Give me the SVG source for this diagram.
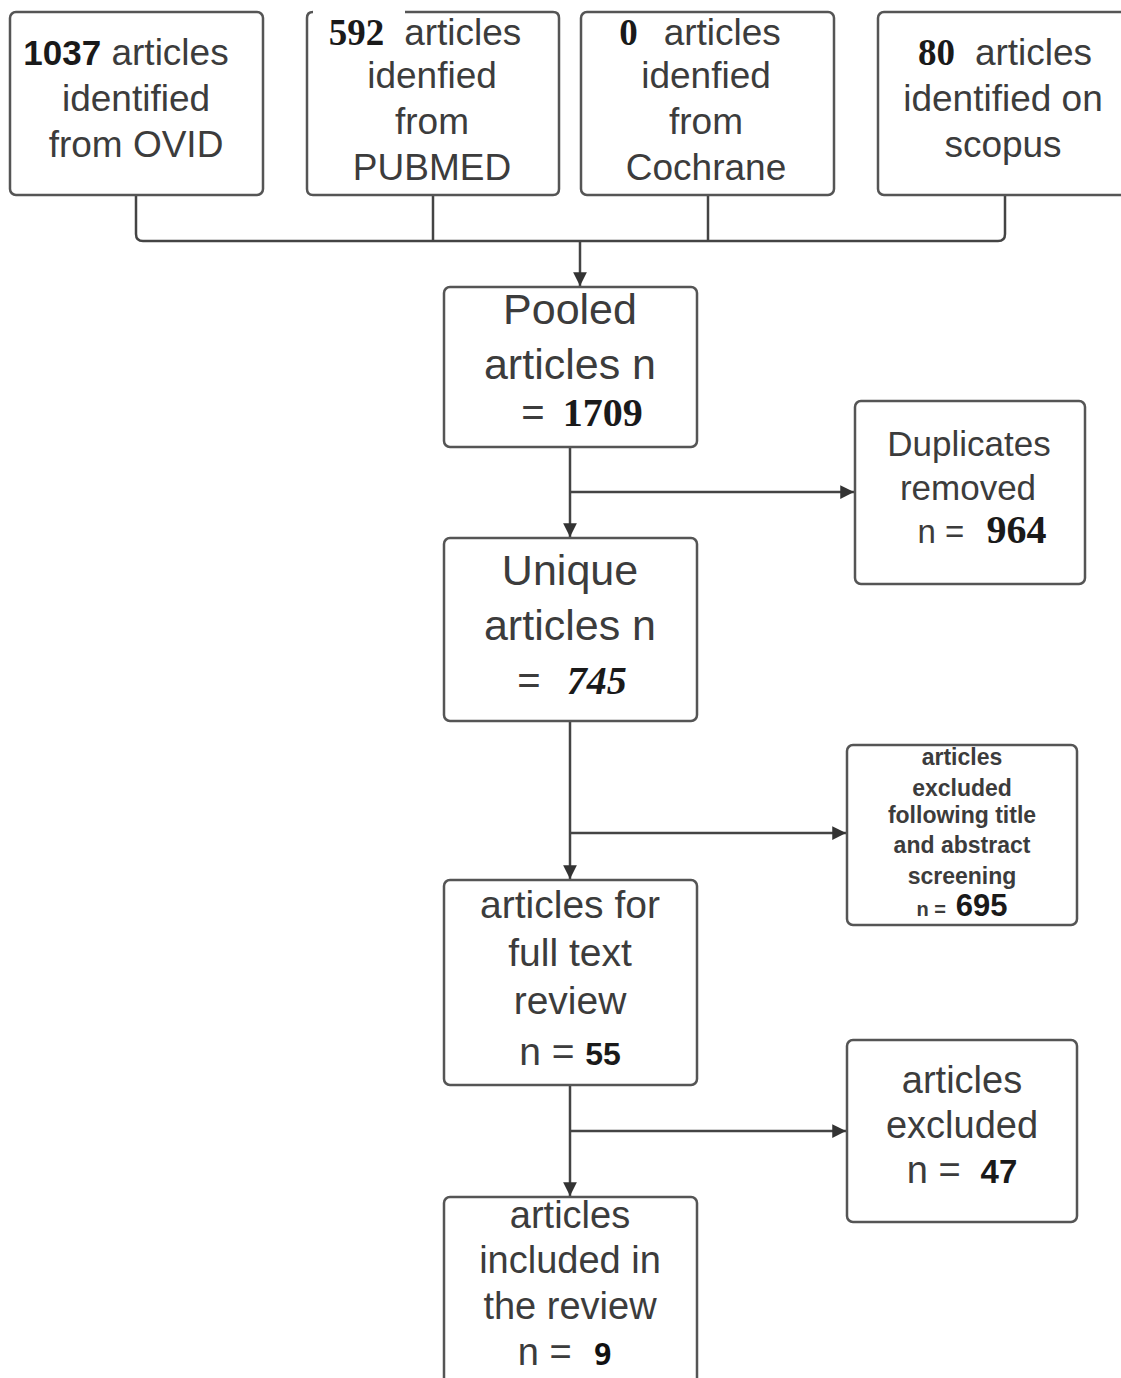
<svg xmlns="http://www.w3.org/2000/svg" width="1121" height="1378" viewBox="0 0 1121 1378">
<defs>
<marker id="ah" viewBox="0 0 10 10" refX="10" refY="5" markerWidth="5.5" markerHeight="5.5" orient="auto" markerUnits="strokeWidth">
<path d="M0,0 L10,5 L0,10 z" fill="#333"/>
</marker>
<style>
.box{fill:#fff;stroke:#555;stroke-width:2.5}
.t{font-family:"Liberation Sans",Arial,sans-serif;fill:#3c3c3c;text-anchor:middle}
.ns{font-family:"Liberation Serif","Times New Roman",serif;font-weight:bold;fill:#1a1a1a}
.nb{font-family:"Liberation Sans",Arial,sans-serif;font-weight:bold;fill:#1a1a1a}
.nm{font-family:"DejaVu Sans Mono","Liberation Mono",monospace;font-weight:bold;fill:#111}
.c{fill:none;stroke:#444;stroke-width:2.5}
</style>
</defs>
<rect width="1121" height="1378" fill="#fff"/>

<g id="connectors">
<path class="c" d="M136,195 V234 Q136,241 143,241 H998 Q1005,241 1005,234 V195"/>
<line class="c" x1="433" y1="195" x2="433" y2="241"/>
<line class="c" x1="708" y1="195" x2="708" y2="241"/>
<line class="c" x1="580" y1="241" x2="580" y2="286" marker-end="url(#ah)"/>
<line class="c" x1="570" y1="447" x2="570" y2="537" marker-end="url(#ah)"/>
<line class="c" x1="570" y1="492" x2="854" y2="492" marker-end="url(#ah)"/>
<line class="c" x1="570" y1="721" x2="570" y2="879" marker-end="url(#ah)"/>
<line class="c" x1="570" y1="833" x2="846" y2="833" marker-end="url(#ah)"/>
<line class="c" x1="570" y1="1085" x2="570" y2="1196" marker-end="url(#ah)"/>
<line class="c" x1="570" y1="1131" x2="846" y2="1131" marker-end="url(#ah)"/>
</g>

<g id="ovid">
<rect class="box" x="10" y="12" width="253" height="183" rx="6"/>
<text class="t" font-size="37"><tspan x="126" y="65"><tspan class="nb" font-size="35">1037</tspan> articles</tspan><tspan x="136" y="111">identified</tspan><tspan x="136" y="157">from OVID</tspan></text>
</g>

<g id="pubmed">
<path class="box" d="M405,12 H553 Q559,12 559,18 V189 Q559,195 553,195 H313 Q307,195 307,189 V18 Q307,12 313,12"/>
<text class="t" font-size="37"><tspan x="425" y="45"><tspan class="ns" font-size="37">592</tspan><tspan dx="20">articles</tspan></tspan><tspan x="432" y="88">idenfied</tspan><tspan x="432" y="134">from</tspan><tspan x="432" y="180">PUBMED</tspan></text>
</g>

<g id="cochrane">
<rect class="box" x="581" y="12" width="253" height="183" rx="6"/>
<text class="t" font-size="37"><tspan x="700" y="45"><tspan class="ns" font-size="37">0</tspan><tspan dx="26">articles</tspan></tspan><tspan x="706" y="88">idenfied</tspan><tspan x="706" y="134">from</tspan><tspan x="706" y="180">Cochrane</tspan></text>
</g>

<g id="scopus">
<rect class="box" x="878" y="12" width="253" height="183" rx="6"/>
<text class="t" font-size="37"><tspan x="1005" y="65"><tspan class="ns" font-size="37">80</tspan><tspan dx="20">articles</tspan></tspan><tspan x="1003" y="111">identified on</tspan><tspan x="1003" y="157">scopus</tspan></text>
</g>

<g id="pooled">
<rect class="box" x="444" y="287" width="253" height="160" rx="6"/>
<text class="t" font-size="43"><tspan x="570" y="324">Pooled</tspan><tspan x="570" y="379">articles n</tspan><tspan x="582" y="426" font-size="40">=<tspan class="ns" font-size="40" dx="18">1709</tspan></tspan></text>
</g>

<g id="duplicates">
<rect class="box" x="855" y="401" width="230" height="183" rx="6"/>
<text class="t" font-size="35"><tspan x="969" y="456">Duplicates</tspan><tspan x="968" y="500">removed</tspan><tspan x="982" y="543" font-size="33">n =<tspan class="ns" font-size="40" dx="22">964</tspan></tspan></text>
</g>

<g id="unique">
<rect class="box" x="444" y="538" width="253" height="183" rx="6"/>
<text class="t" font-size="43"><tspan x="572" y="694" font-size="40">=<tspan class="ns" font-style="italic" font-size="40" dx="26">745</tspan></tspan><tspan x="570" y="585">Unique</tspan><tspan x="570" y="640">articles n</tspan></text>
</g>

<g id="screening">
<rect class="box" x="847" y="745" width="230" height="180" rx="6"/>
<text class="t" font-size="23" font-weight="bold" fill="#6a6a6a"><tspan x="962" y="765">articles</tspan><tspan x="962" y="796">excluded</tspan><tspan x="962" y="823">following title</tspan><tspan x="962" y="853">and abstract</tspan><tspan x="962" y="884">screening</tspan><tspan x="962" y="916" font-size="20">n =<tspan class="nb" font-size="31" dx="10">695</tspan></tspan></text>
</g>

<g id="fulltext">
<rect class="box" x="444" y="880" width="253" height="205" rx="6"/>
<text class="t" font-size="39"><tspan x="570" y="918">articles for</tspan><tspan x="570" y="966">full text</tspan><tspan x="570" y="1014">review</tspan><tspan x="570" y="1065">n = <tspan class="nb" font-size="32">55</tspan></tspan></text>
</g>

<g id="excluded">
<rect class="box" x="847" y="1040" width="230" height="182" rx="6"/>
<text class="t" font-size="38"><tspan x="962" y="1183">n =<tspan class="nb" font-size="33" dx="20">47</tspan></tspan><tspan x="962" y="1093">articles</tspan><tspan x="962" y="1138">excluded</tspan></text>
</g>

<g id="included">
<rect class="box" x="444" y="1197" width="253" height="200" rx="6"/>
<text class="t" font-size="38"><tspan x="565" y="1365">n =<tspan class="nm" font-size="31" dx="22">9</tspan></tspan><tspan x="570" y="1228">articles</tspan><tspan x="570" y="1273">included in</tspan><tspan x="570" y="1319">the review</tspan></text>
</g>
</svg>
